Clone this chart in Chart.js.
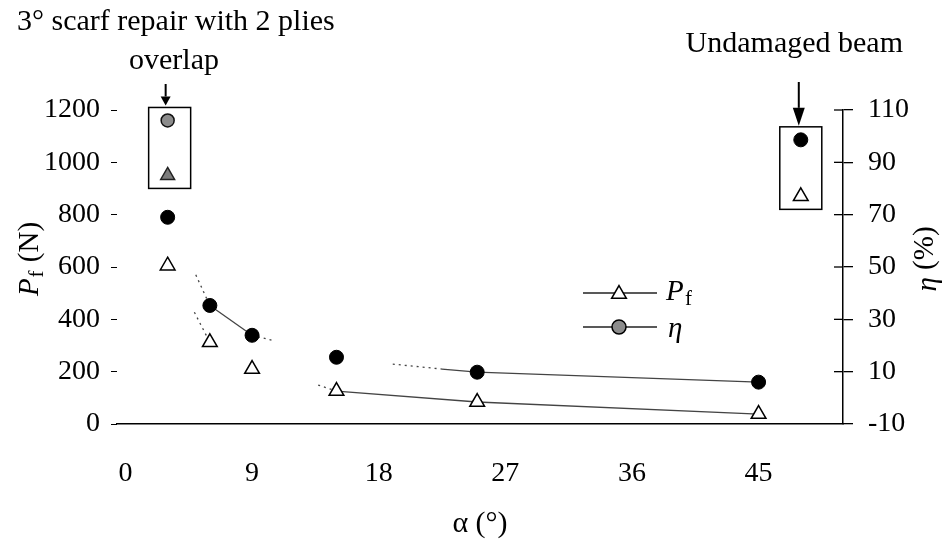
<!DOCTYPE html>
<html>
<head>
<meta charset="utf-8">
<script src="https://cdn.jsdelivr.net/npm/chart.js@4/dist/chart.umd.min.js"></script>
<style>
  body { margin: 0; background: #fff; }
  canvas { display: block; }
</style>
</head>
<body>
<canvas id="chart" width="944" height="542"></canvas>
<script>
// scarf angle (deg) and measured values
const alpha = [3, 6, 9, 15, 25, 45];
const pf = [605, 312, 210, 126, 84, 38];        // failure load, N
const eta = [69, 35.3, 23.9, 15.5, 9.8, 6];     // strength recovery, %

// 3 deg scarf with 2 plies overlap
const repairAlpha = [3];
const repairPf = [950];
const repairEta = [106];

// undamaged beam
const undamagedAlpha = [48];
const undamagedPf = [870];
const undamagedEta = [98.6];

// trend curves (null = break)
const pfTrendAlpha = [4.9, 6, 6, 13.7, 15, 25, 45];
const pfTrend = [427, 312, null, 149, 126, 84, 38];
const etaTrendAlpha = [5.0, 6, 9, 10.4, 10.4, 19, 22.5, 25, 45];
const etaTrend = [47, 35.3, 23.9, 22, null, 12.9, 11, 9.8, 6];

const xTicks = [0, 9, 18, 27, 36, 45];
const pfTicks = [0, 200, 400, 600, 800, 1000, 1200];
const etaTicks = [-10, 10, 30, 50, 70, 90, 110];

// which trend segments are dotted
const pfDotted = [true, false, false, true, false, false];
const etaDotted = [true, false, true, false, false, true, false, false];

const SERIF = "'Liberation Serif', 'Times New Roman', serif";

function pts(xs, ys){ return xs.map((x,i)=>({x: x, y: ys[i]})); }

const annotations = {
  id: 'annotations',
  afterDraw(chart){
    const ctx = chart.ctx;
    const sx = chart.scales.x, sy = chart.scales.y, sy1 = chart.scales.y1;
    ctx.save();
    ctx.fillStyle = '#000';
    ctx.strokeStyle = '#000';
    ctx.textBaseline = 'middle';

    // inner half of the right axis ticks (they cross the line)
    ctx.lineWidth = 1.3;
    etaTicks.forEach(v => {
      const py = sy1.getPixelForValue(v);
      if (v === etaTicks[0]) return;
      ctx.beginPath(); ctx.moveTo(sy1.left - 9, py); ctx.lineTo(sy1.left, py); ctx.stroke();
    });

    // top labels
    ctx.font = '30px ' + SERIF;
    ctx.textAlign = 'left';
    ctx.fillText('3\u00b0 scarf repair with 2 plies', 17, 22);
    ctx.textAlign = 'center';
    ctx.fillText('overlap', 174, 61);
    ctx.textAlign = 'right';
    ctx.fillText('Undamaged beam', 903, 44);

    // boxes around the reference points
    function box(a, p, e, l, r){
      const cx = sx.getPixelForValue(a);
      const top = sy1.getPixelForValue(e) - 13;
      const bot = sy.getPixelForValue(p) + 13;
      ctx.lineWidth = 1.5;
      ctx.strokeRect(cx - l, top, l + r, bot - top);
      return {cx, top};
    }
    const b1 = box(repairAlpha[0], repairPf[0], repairEta[0], 19, 23);
    const b2 = box(undamagedAlpha[0], undamagedPf[0], undamagedEta[0], 21, 21);

    function arrow(x, y0, y1, hw, hl){
      ctx.lineWidth = 2;
      ctx.beginPath(); ctx.moveTo(x, y0); ctx.lineTo(x, y1 - hl); ctx.stroke();
      ctx.beginPath(); ctx.moveTo(x - hw, y1 - hl); ctx.lineTo(x + hw, y1 - hl); ctx.lineTo(x, y1); ctx.closePath(); ctx.fill();
    }
    arrow(b1.cx - 2, 84, b1.top - 2, 5, 9);
    arrow(b2.cx - 2, 82, b2.top - 1, 6, 18);

    // legend
    ctx.strokeStyle = '#222';
    ctx.lineWidth = 1.5;
    ctx.beginPath(); ctx.moveTo(583, 293); ctx.lineTo(657, 293); ctx.stroke();
    ctx.beginPath(); ctx.moveTo(583, 327); ctx.lineTo(657, 327); ctx.stroke();
    ctx.strokeStyle = '#000';
    ctx.fillStyle = '#fff';
    Chart.helpers.drawPoint(ctx, {pointStyle: 'triangle', radius: 8.5, rotation: 0, borderWidth: 1.5}, 619, 294);
    ctx.fillStyle = '#8c8c8c';
    Chart.helpers.drawPoint(ctx, {pointStyle: 'circle', radius: 7, rotation: 0, borderWidth: 1.5}, 619, 327);
    ctx.fillStyle = '#000';
    ctx.textAlign = 'left';
    ctx.font = 'italic 29px ' + SERIF;
    ctx.fillText('P', 666, 292);
    ctx.font = '21px ' + SERIF;
    ctx.fillText('f', 685, 299);
    ctx.font = 'italic 29px ' + SERIF;
    ctx.fillText('\u03b7', 668, 329);

    // left axis title
    ctx.save();
    ctx.translate(30, 259);
    ctx.rotate(-Math.PI / 2);
    ctx.font = 'italic 29px ' + SERIF;
    const wP = ctx.measureText('P').width;
    ctx.font = '21px ' + SERIF;
    const wf = ctx.measureText('f').width;
    ctx.font = '29px ' + SERIF;
    const wN = ctx.measureText(' (N)').width;
    let x0 = -(wP + wf + 2 + wN) / 2;
    ctx.font = 'italic 29px ' + SERIF;
    ctx.fillText('P', x0, 0);
    ctx.font = '21px ' + SERIF;
    ctx.fillText('f', x0 + wP + 1, 7);
    ctx.font = '29px ' + SERIF;
    ctx.fillText(' (N)', x0 + wP + wf + 2, 0);
    ctx.restore();

    // right axis title
    ctx.save();
    ctx.translate(925, 259);
    ctx.rotate(-Math.PI / 2);
    ctx.font = 'italic 29px ' + SERIF;
    const we = ctx.measureText('\u03b7').width;
    ctx.font = '29px ' + SERIF;
    const wpc = ctx.measureText(' (%)').width;
    x0 = -(we + wpc) / 2;
    ctx.font = 'italic 29px ' + SERIF;
    ctx.fillText('\u03b7', x0, 3);
    ctx.font = '29px ' + SERIF;
    ctx.fillText(' (%)', x0 + we, 0);
    ctx.restore();

    ctx.restore();
  }
};

const trendStyle = {
  showLine: true, pointRadius: 0, borderColor: '#444', borderWidth: 1.3,
  spanGaps: false, order: 2, fill: false
};

const tickFont = { family: SERIF, size: 28 };

new Chart(document.getElementById('chart'), {
  type: 'scatter',
  data: {
    datasets: [
      Object.assign({
        label: 'Pf trend', yAxisID: 'y',
        data: pts(pfTrendAlpha, pfTrend),
        segment: { borderDash: c => pfDotted[c.p0DataIndex] ? [2, 4] : undefined }
      }, trendStyle),
      Object.assign({
        label: 'eta trend', yAxisID: 'y1',
        data: pts(etaTrendAlpha, etaTrend),
        segment: { borderDash: c => etaDotted[c.p0DataIndex] ? [2, 4] : undefined }
      }, trendStyle),
      { label: 'Pf', yAxisID: 'y', data: pts(alpha, pf), order: 1,
        pointStyle: 'triangle', pointRadius: 8.5, pointBackgroundColor: '#fff',
        pointBorderColor: '#000', pointBorderWidth: 1.5 },
      { label: 'eta', yAxisID: 'y1', data: pts(alpha, eta), order: 1,
        pointStyle: 'circle', pointRadius: 7, pointBackgroundColor: '#000',
        pointBorderColor: '#000', pointBorderWidth: 1 },
      { label: 'Pf repair', yAxisID: 'y', data: pts(repairAlpha, repairPf), order: 1,
        pointStyle: 'triangle', pointRadius: 8, pointBackgroundColor: '#7d7d7d',
        pointBorderColor: '#222', pointBorderWidth: 1.5 },
      { label: 'eta repair', yAxisID: 'y1', data: pts(repairAlpha, repairEta), order: 1,
        pointStyle: 'circle', pointRadius: 6.5, pointBackgroundColor: '#8c8c8c',
        pointBorderColor: '#111', pointBorderWidth: 1.5 },
      { label: 'Pf undamaged', yAxisID: 'y', data: pts(undamagedAlpha, undamagedPf), order: 1,
        pointStyle: 'triangle', pointRadius: 8.5, pointBackgroundColor: '#fff',
        pointBorderColor: '#000', pointBorderWidth: 1.5 },
      { label: 'eta undamaged', yAxisID: 'y1', data: pts(undamagedAlpha, undamagedEta), order: 1,
        pointStyle: 'circle', pointRadius: 7, pointBackgroundColor: '#000',
        pointBorderColor: '#000', pointBorderWidth: 1 }
    ]
  },
  options: {
    responsive: false,
    animation: false,
    layout: { padding: { top: 110, left: 0, right: 0, bottom: 0 } },
    plugins: { legend: { display: false }, tooltip: { enabled: false } },
    scales: {
      x: {
        type: 'linear', position: 'bottom', min: -0.6, max: 51,
        afterBuildTicks: s => { s.ticks = xTicks.map(v => ({value: v})); },
        afterFit: s => { s.height = 118; },
        grid: { display: true, drawOnChartArea: false, drawTicks: false },
        border: { display: true, color: '#000', width: 1.5 },
        ticks: { color: '#000', padding: 33, font: tickFont, callback: v => String(v) },
        title: { display: true, text: '\u03b1 (\u00b0)', color: '#000',
                 padding: { top: 0, bottom: 0 }, font: { family: SERIF, size: 30 } }
      },
      y: {
        type: 'linear', position: 'left', min: 0, max: 1200,
        afterBuildTicks: s => { s.ticks = pfTicks.map(v => ({value: v})); },
        afterFit: s => { s.width = 117; },
        grid: { drawOnChartArea: false, tickLength: 6, color: '#000', lineWidth: 1 },
        border: { display: false },
        ticks: { color: '#000', padding: 11, font: tickFont, callback: v => String(v) }
      },
      y1: {
        type: 'linear', position: 'right', min: -10, max: 110,
        afterBuildTicks: s => { s.ticks = etaTicks.map(v => ({value: v})); },
        afterFit: s => { s.width = 101; },
        grid: { drawOnChartArea: false, tickLength: 10, color: '#000', lineWidth: 1.3 },
        border: { display: true, color: '#000', width: 1.5 },
        ticks: { color: '#000', padding: 15, font: tickFont, callback: v => String(v) }
      }
    }
  },
  plugins: [annotations]
});
</script>
</body>
</html>
